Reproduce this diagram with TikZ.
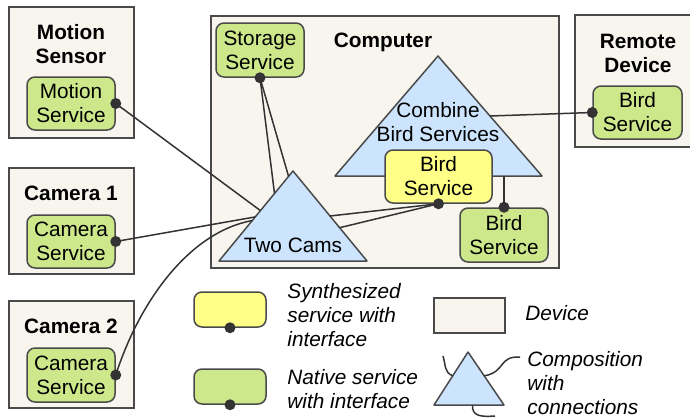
\documentclass[tikz,border=0pt]{standalone}
\usepackage{fontspec}
\setmainfont{Liberation Sans}
\usepackage{tikz}
\usetikzlibrary{calc}
\definecolor{devfill}{HTML}{F7F5EE}
\definecolor{natfill}{HTML}{CDE88B}
\definecolor{synfill}{HTML}{FFFF88}
\definecolor{compfill}{HTML}{CCE4FD}
\definecolor{edgegray}{HTML}{4A4A4A}
\definecolor{wiregray}{HTML}{333333}

\begin{document}
\begin{tikzpicture}[x=0.5pt,y=-0.5pt,
			every node/.style={font=\fontsize{10.4}{12}\selectfont, inner sep=0pt},
			device/.style={draw=edgegray, fill=devfill, line width=0.75pt, anchor=north west},
			native/.style={draw=edgegray, fill=natfill, line width=0.75pt, rounded corners=4pt, align=center},
			synth/.style={native, fill=synfill},
			comp/.style={draw=edgegray, fill=compfill, line width=0.75pt, line join=round},
			devlabel/.style={font=\fontsize{10.4}{12}\selectfont\bfseries, align=center},
			legtext/.style={font=\fontsize{10.4}{12}\selectfont\itshape, align=left, anchor=west},
			wire/.style={draw=wiregray, line width=0.75pt},
			dot/.style={circle, fill=wiregray, minimum size=5.5pt}]
			\useasboundingbox (0,0) rectangle (690,419);
			
			% devices
			\node[device, minimum width=62.5pt, minimum height=65.5pt] (motion) at (8,6) {};
			\node[device, minimum width=62.5pt, minimum height=53pt] (cam1) at (8,167) {};
			\node[device, minimum width=62.5pt, minimum height=53.5pt] (cam2) at (8,300) {};
			\node[device, minimum width=174pt, minimum height=126pt] (computer) at (210,15) {};
			\node[device, minimum width=62pt, minimum height=66pt] (remote) at (574,14) {};
			
			\node[devlabel] (motionlbl) at (71,44) {Motion\\Sensor};
			\node[devlabel] (cam1lbl) at (71,193) {Camera 1};
			\node[devlabel] (cam2lbl) at (71,326) {Camera 2};
			\node[devlabel] (complbl) at (383,42) {Computer};
			\node[devlabel] (remotelbl) at (638,53) {Remote\\Device};
			
			% compositions
			\coordinate (cb-top) at (438,56);
			\coordinate (cb-l) at (335,176);
			\coordinate (cb-r) at (542,176);
			\draw[comp] (cb-top) -- (cb-l) -- (cb-r) -- cycle;
			\node[align=center] (cblbl) at (438,122) {Combine\\Bird Services};
			
			\coordinate (tc-top) at (293,171);
			\coordinate (tc-l) at (219,261);
			\coordinate (tc-r) at (367,261);
			\draw[comp] (tc-top) -- (tc-l) -- (tc-r) -- cycle;
			\node (tclbl) at (293,245) {Two Cams};
			
			% services
			\node[native, minimum width=44pt, minimum height=26.5pt] (motsrv) at (71,103.5) {Motion\\Service};
			\node[native, minimum width=44pt, minimum height=26.5pt] (cam1srv) at (71,241.5) {Camera\\Service};
			\node[native, minimum width=44pt, minimum height=27pt] (cam2srv) at (71,375) {Camera\\Service};
			\node[native, minimum width=44pt, minimum height=27pt] (storsrv) at (260,50) {Storage\\Service};
			\node[synth, minimum width=53.5pt, minimum height=26.5pt] (birdsyn) at (438.5,176.5) {Bird\\Service};
			\node[native, minimum width=44pt, minimum height=27pt] (birdloc) at (504,235) {Bird\\Service};
			\node[native, minimum width=44.5pt, minimum height=26.5pt] (birdrem) at (637.5,112.5) {Bird\\Service};
			
			% connections
			\draw[wire] (storsrv.south) -- ($(tc-top)!0.25!(tc-l)$);
			\draw[wire] (storsrv.south) -- ($(tc-top)!0.06!(tc-l)$);
			\draw[wire] (motsrv.east) -- ($(tc-top)!0.44!(tc-l)$);
			\draw[wire] (cam1srv.east) -- ($(tc-top)!0.51!(tc-l)$);
			\draw[wire] (cam2srv.east) .. controls (140,300) and (190,232) .. ($(tc-top)!0.55!(tc-l)$);
			\draw[wire] (birdsyn.south) -- ($(tc-top)!0.5!(tc-r)$);
			\draw[wire] (birdsyn.south) -- ($(tc-top)!0.63!(tc-r)$);
			\draw[wire] (birdloc.north) -- (birdloc.north |- cb-r);
			\draw[wire] ($(cb-top)!0.5!(cb-r)$) -- (birdrem.west);
			
			\foreach \s/\a in {motsrv/east, cam1srv/east, cam2srv/east, storsrv/south,
				birdsyn/south, birdloc/north, birdrem/west}
			\node[dot] at (\s.\a) {};
			
			% legend
			\node[synth, minimum width=36pt, minimum height=17.5pt] (legsyn) at (230,309.5) {};
			\node[dot] at (legsyn.south) {};
			\node[legtext] (legsyntxt) at (287,315) {Synthesized\\service with\\interface};
			
			\node[native, minimum width=36pt, minimum height=17.5pt] (legnat) at (230,386.5) {};
			\node[dot] at (legnat.south) {};
			\node[legtext] (legnattxt) at (287,389.5) {Native service\\with interface};
			
			\node[device, minimum width=35.5pt, minimum height=17.5pt] (legdev) at (433,297) {};
			\node[legtext] (legdevtxt) at (525,313) {Device};
			
			\coordinate (lg-top) at (468,352);
			\coordinate (lg-l) at (434,405);
			\coordinate (lg-r) at (504,405);
			\coordinate (lg-a) at (443,356);
			\coordinate (lg-b) at (520,357);
			\coordinate (lg-c) at (495,416);
			\draw[comp] (lg-top) -- (lg-l) -- (lg-r) -- cycle;
			\draw[wire] (lg-a) .. controls (446,366) and (444,372) .. ($(lg-top)!0.45!(lg-l)$);
			\draw[wire] ($(lg-top)!0.45!(lg-r)$) .. controls (506,372) and (498,356) .. (lg-b);
			\draw[wire] ($(lg-l)!0.55!(lg-r)$) .. controls (472,416) and (480,417) .. (lg-c);
			\node[legtext] (legcomptxt) at (527,383) {Composition\\with\\connections};
		\end{tikzpicture}
\end{document}
